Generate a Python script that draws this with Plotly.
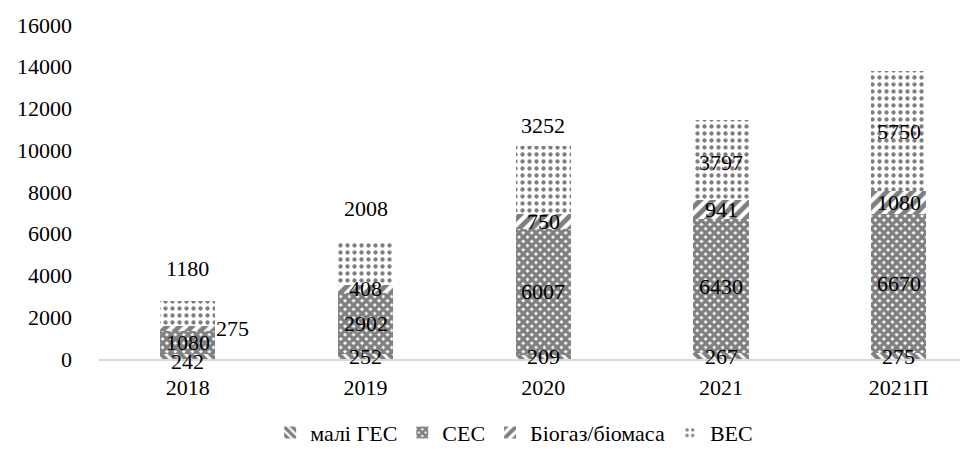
import plotly.graph_objects as go
import numpy as np

categories = ["2018", "2019", "2020", "2021", "2021П"]
hydro = [242, 252, 209, 267, 275]        # малі ГЕС
solar = [1080, 2902, 6007, 6430, 6670]   # СЕС
biogas = [275, 408, 750, 941, 1080]      # Біогаз/біомаса
wind = [1180, 2008, 3252, 3797, 5750]    # ВЕС
y_ticks = [0, 2000, 4000, 6000, 8000, 10000, 12000, 14000, 16000]

FONT = "Liberation Serif, Times New Roman, serif"
FS = 22
BAR_W = 0.31

series = [
    ("малі ГЕС", hydro, dict(shape="\\", size=7, solidity=0.6, fgcolor="#000000", bgcolor="#ffffff"), "#ffffff"),
    ("СЕС", solar, dict(shape="x", size=6, solidity=0.8, fgcolor="#000000", bgcolor="#ffffff"), "#ffffff"),
    ("Біогаз/біомаса", biogas, dict(shape="/", size=9, solidity=0.55, fgcolor="#000000", bgcolor="#ffffff"), "#ffffff"),
    ("ВЕС", wind, dict(shape=".", size=7, solidity=0.3, fgcolor="#000000", bgcolor="#ffffff"), "#ffffff"),
]

fig = go.Figure()
for name, vals, pat, col in series:
    fig.add_trace(go.Bar(
        x=list(range(len(categories))), y=vals, name=name, width=BAR_W,
        marker=dict(color=col, pattern=pat, line=dict(width=0)),
        hoverinfo="skip",
    ))

# data labels
base = np.zeros(len(categories))
annotations = []
# label shifts (px): per series, per category
yshift = {
    "малі ГЕС": [-5, 0, 0, 0, 0],
    "СЕС": [0, 0, 0, 0, 0],
    "Біогаз/біомаса": [0, 0, 0, 0, 0],
    "ВЕС": [45, 55, 54, -3, 0],
}
for name, vals, pat, col in series:
    for i, v in enumerate(vals):
        center = base[i] + v / 2
        ann = dict(x=i, y=center, text=str(v), showarrow=False,
                   font=dict(family=FONT, size=FS, color="#000000"),
                   yshift=yshift[name][i])
        if name == "Біогаз/біомаса" and i == 0:
            ann.update(xanchor="left", xshift=26)
        annotations.append(ann)
    base += np.array(vals)

fig.update_layout(
    barmode="stack",
    width=968, height=449,
    margin=dict(l=91, r=3, t=17, b=84),
    paper_bgcolor="#ffffff", plot_bgcolor="#ffffff",
    font=dict(family=FONT, size=FS, color="#000000"),
    annotations=annotations,
    showlegend=True,
    legend=dict(orientation="h", x=0.475, xanchor="center", y=-0.221, yanchor="middle",
                font=dict(family=FONT, size=22), traceorder="normal"),
    xaxis=dict(range=[-0.5, 4.418], tickvals=list(range(len(categories))), ticktext=categories,
               showgrid=False, zeroline=False,
               showline=True, linecolor="#d9d9d9", linewidth=1.5,
               ticks="", ticklabelstandoff=8,
               tickfont=dict(family=FONT, size=FS), fixedrange=True),
    yaxis=dict(range=[0, 16000], tickvals=y_ticks, tickformat="d", showgrid=False, zeroline=False,
               showline=False, ticks="", ticklabelstandoff=26,
               tickfont=dict(family=FONT, size=FS), fixedrange=True),
)

fig.write_html("out.html")
